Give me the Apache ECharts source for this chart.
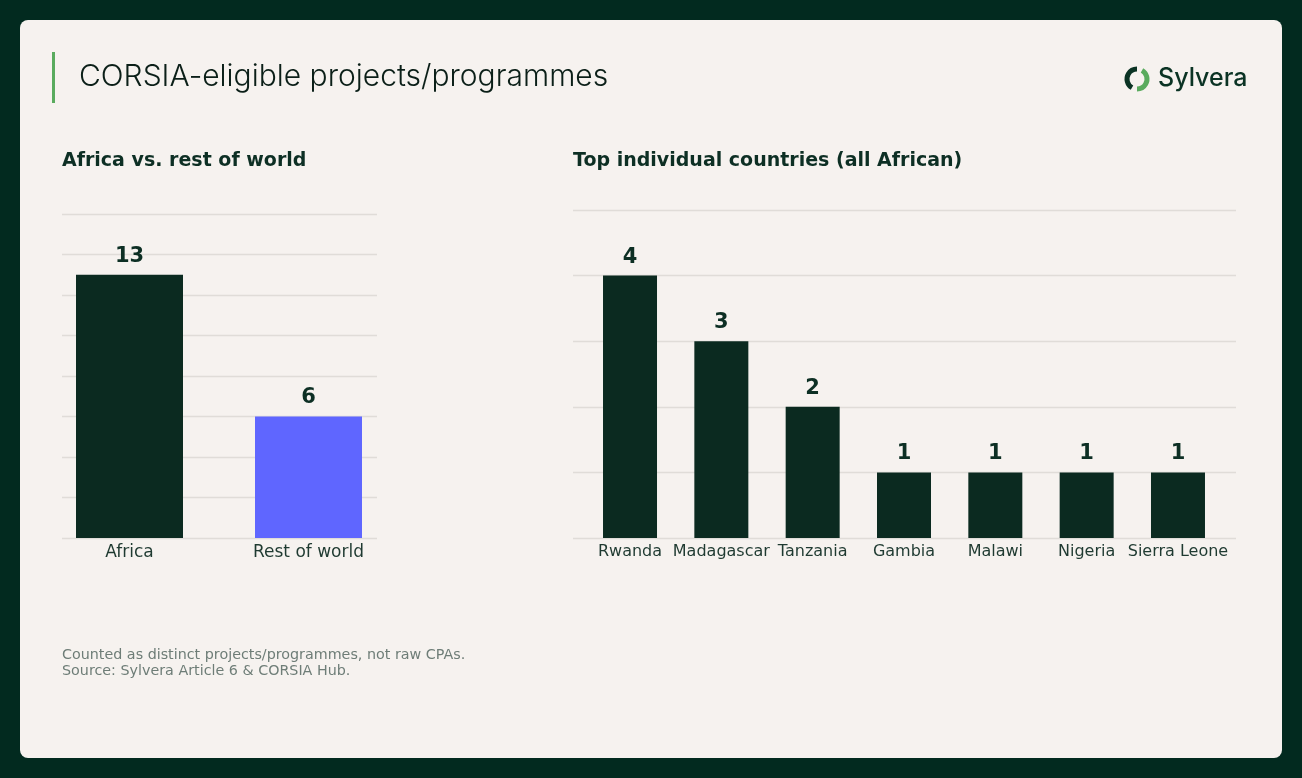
<!DOCTYPE html>
<html>
<head>
<meta charset="utf-8">
<script src="https://cdn.jsdelivr.net/npm/echarts@6/dist/echarts.min.js"></script>
<style>
  html, body { margin: 0; padding: 0; background: #022a1f; }
  #chart { width: 1302px; height: 778px; }
</style>
</head>
<body>
<div id="chart"></div>
<script>
// ---- Data ----
const regionCategories = ['Africa', 'Rest of world'];
const regionValues = [13, 6];
const countryCategories = ['Rwanda', 'Madagascar', 'Tanzania', 'Gambia', 'Malawi', 'Nigeria', 'Sierra Leone'];
const countryValues = [4, 3, 2, 1, 1, 1, 1];

// ---- Styles ----
const DARK = '#0b2a20';
const BLUE = '#5f66ff';
const TEXT = '#0d2f24';
const GRID = '#e0dcd8';
const FONT = 'DejaVu Sans';

const chart = echarts.init(document.getElementById('chart'));

const barLabel = {
  show: true, position: 'top', distance: 8,
  fontFamily: FONT, fontWeight: 'bold', fontSize: 21, color: TEXT
};

chart.setOption({
  backgroundColor: '#022a1f',
  animation: false,
  title: [
    { text: 'Africa vs. rest of world', left: 62, top: 152, padding: 0,
      textStyle: { fontFamily: FONT, fontWeight: 'bold', fontSize: 19, color: TEXT } },
    { text: 'Top individual countries (all African)', left: 573, top: 152, padding: 0,
      textStyle: { fontFamily: FONT, fontWeight: 'bold', fontSize: 19, color: TEXT } }
  ],
  graphic: [
    { type: 'rect', left: 20, top: 20, z: -10,
      shape: { width: 1262, height: 738, r: 8 }, style: { fill: '#f6f2ef' } },
    { type: 'rect', left: 52, top: 52,
      shape: { width: 3, height: 51 }, style: { fill: '#5aab5e' } },
    { type: 'text', left: 79, top: 62,
      style: { text: 'CORSIA-eligible projects/programmes', fontFamily: 'Inter', fontWeight: 300,
               fontSize: 30, fill: '#0b1f18' } },
    { type: 'arc', shape: { cx: 1137, cy: 79, r: 10, startAngle: Math.PI * 2 / 3, endAngle: Math.PI * 1.5, clockwise: true },
      style: { stroke: '#0b3324', lineWidth: 5, fill: null } },
    { type: 'arc', shape: { cx: 1137, cy: 79, r: 10, startAngle: -Math.PI / 3, endAngle: Math.PI / 2, clockwise: true },
      style: { stroke: '#5aab5e', lineWidth: 5, fill: null } },
    { type: 'text', left: 1158, top: 66,
      style: { text: 'Sylvera', fontFamily: 'Inter', fontWeight: 500, fontSize: 25, fill: '#0b3324' } },
    { type: 'text', left: 62, top: 647,
      style: { text: 'Counted as distinct projects/programmes, not raw CPAs.\nSource: Sylvera Article 6 & CORSIA Hub.',
               fontFamily: FONT, fontSize: 14.3, lineHeight: 16.5, fill: '#6e7d77' } }
  ],
  grid: [
    { left: 62, width: 315, top: 214, height: 324 },
    { left: 40, width: 358, top: 214, height: 324 },
    { left: 573, width: 663, top: 210, height: 328 },
    { left: 584.35, width: 639.3, top: 210, height: 328 }
  ],
  xAxis: [
    { gridIndex: 0, type: 'value', show: false },
    { gridIndex: 1, type: 'category', data: regionCategories,
      axisLine: { show: false }, axisTick: { show: false },
      axisLabel: { fontFamily: FONT, fontSize: 17, color: '#1f3a31', margin: 6 } },
    { gridIndex: 2, type: 'value', show: false },
    { gridIndex: 3, type: 'category', data: countryCategories,
      axisLine: { show: false }, axisTick: { show: false },
      axisLabel: { fontFamily: FONT, fontSize: 16, color: '#1f3a31', margin: 6, interval: 0 } }
  ],
  yAxis: [
    { gridIndex: 0, type: 'value', min: 0, max: 16, interval: 2,
      axisLine: { show: false }, axisTick: { show: false }, axisLabel: { show: false },
      splitLine: { show: true, lineStyle: { color: GRID, width: 1.3 } } },
    { gridIndex: 1, type: 'value', min: 0, max: 16, interval: 2, show: false, splitLine: { show: false } },
    { gridIndex: 2, type: 'value', min: 0, max: 5, interval: 1,
      axisLine: { show: false }, axisTick: { show: false }, axisLabel: { show: false },
      splitLine: { show: true, lineStyle: { color: GRID, width: 1.3 } } },
    { gridIndex: 3, type: 'value', min: 0, max: 5, interval: 1, show: false, splitLine: { show: false } }
  ],
  series: [
    { type: 'bar', xAxisIndex: 1, yAxisIndex: 1, data: regionValues, barWidth: 107,
      itemStyle: { color: p => (p.dataIndex === 0 ? DARK : BLUE) }, label: barLabel },
    { type: 'bar', xAxisIndex: 3, yAxisIndex: 3, data: countryValues, barWidth: 54,
      itemStyle: { color: DARK }, label: barLabel }
  ]
});
</script>
</body>
</html>
